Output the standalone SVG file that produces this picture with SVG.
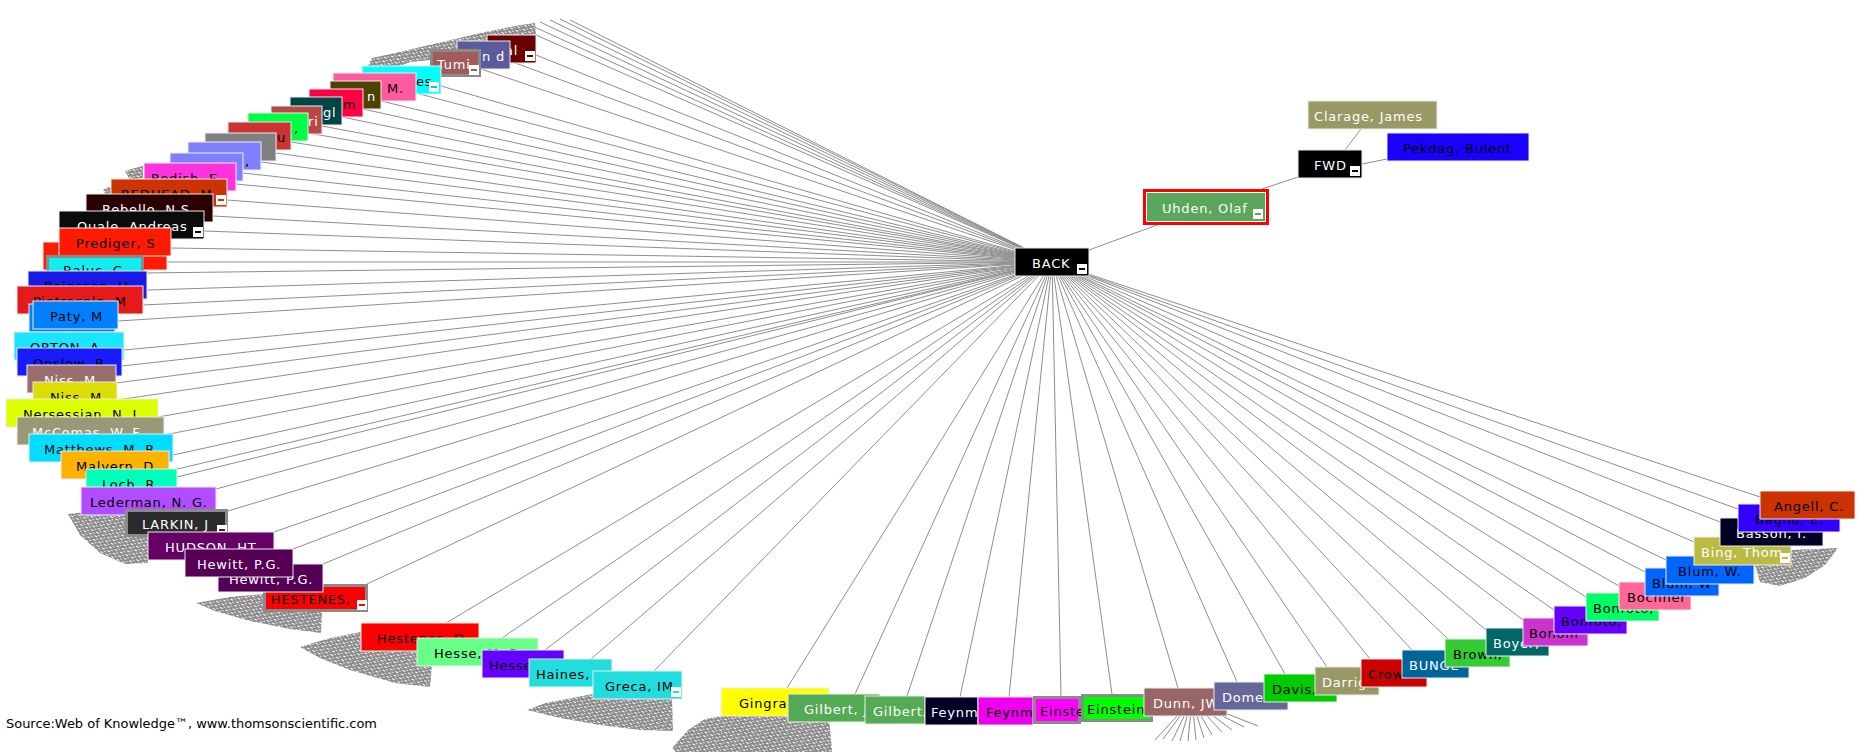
<svg xmlns="http://www.w3.org/2000/svg" width="1864" height="752" viewBox="0 0 1864 752">
<defs>
<style>
.b{stroke:#ececec;stroke-width:1}
.t{font-family:"DejaVu Sans",Verdana,sans-serif;font-size:13px;letter-spacing:0.8px}
.w{fill:#ffffff}
.k{fill:#000000}
.gb{fill:#8a8a8a}
.mi{fill:#ffffff}
.c line{stroke:#8e8e8e;stroke-width:1}
.fan{fill:url(#fanp)}
.fl line{stroke:#8a8a8a;stroke-width:1}
</style>
<pattern id="fanp" width="6" height="4" patternUnits="userSpaceOnUse" patternTransform="rotate(25)">
<rect width="6" height="4" fill="#8c8c8c"/>
<rect x="0" y="1" width="3" height="1" fill="#ffffff"/>
<rect x="3" y="3" width="2" height="1" fill="#e0e0e0"/>
</pattern>
</defs>
<rect width="1864" height="752" fill="#ffffff"/>

<g id="connectors" class="c">
<line x1="1052" y1="262" x2="536" y2="55"/>
<line x1="1052" y1="262" x2="510" y2="61"/>
<line x1="1052" y1="262" x2="481" y2="69"/>
<line x1="1052" y1="262" x2="441" y2="86"/>
<line x1="1052" y1="262" x2="416" y2="93"/>
<line x1="1052" y1="262" x2="381" y2="101"/>
<line x1="1052" y1="262" x2="363" y2="109"/>
<line x1="1052" y1="262" x2="342" y2="117"/>
<line x1="1052" y1="262" x2="322" y2="126"/>
<line x1="1052" y1="262" x2="308" y2="133"/>
<line x1="1052" y1="262" x2="291" y2="142"/>
<line x1="1052" y1="262" x2="276" y2="153"/>
<line x1="1052" y1="262" x2="261" y2="162"/>
<line x1="1052" y1="262" x2="243" y2="173"/>
<line x1="1052" y1="262" x2="236" y2="184"/>
<line x1="1052" y1="262" x2="227" y2="200"/>
<line x1="1052" y1="262" x2="213" y2="216"/>
<line x1="1052" y1="262" x2="204" y2="231"/>
<line x1="1052" y1="262" x2="171" y2="248"/>
<line x1="1052" y1="262" x2="167" y2="262"/>
<line x1="1052" y1="262" x2="144" y2="273"/>
<line x1="1052" y1="262" x2="147" y2="290"/>
<line x1="1052" y1="262" x2="143" y2="305"/>
<line x1="1052" y1="262" x2="118" y2="321"/>
<line x1="1052" y1="262" x2="124" y2="350"/>
<line x1="1052" y1="262" x2="122" y2="366"/>
<line x1="1052" y1="262" x2="116" y2="383"/>
<line x1="1052" y1="262" x2="117" y2="400"/>
<line x1="1052" y1="262" x2="158" y2="417"/>
<line x1="1052" y1="262" x2="164" y2="435"/>
<line x1="1052" y1="262" x2="173" y2="455"/>
<line x1="1052" y1="262" x2="169" y2="471"/>
<line x1="1052" y1="262" x2="177" y2="477"/>
<line x1="1052" y1="262" x2="216" y2="489"/>
<line x1="1052" y1="262" x2="228" y2="511"/>
<line x1="1052" y1="262" x2="274" y2="532"/>
<line x1="1052" y1="262" x2="293" y2="549"/>
<line x1="1052" y1="262" x2="323" y2="564"/>
<line x1="1052" y1="262" x2="367" y2="584"/>
<line x1="1052" y1="262" x2="446" y2="623"/>
<line x1="1052" y1="262" x2="502" y2="638"/>
<line x1="1052" y1="262" x2="545" y2="650"/>
<line x1="1052" y1="262" x2="591" y2="659"/>
<line x1="1052" y1="262" x2="654" y2="671"/>
<line x1="1052" y1="262" x2="787" y2="688"/>
<line x1="1052" y1="262" x2="855" y2="694"/>
<line x1="1052" y1="262" x2="907" y2="696"/>
<line x1="1052" y1="262" x2="960" y2="697"/>
<line x1="1052" y1="262" x2="1009" y2="697"/>
<line x1="1052" y1="262" x2="1061" y2="696"/>
<line x1="1052" y1="262" x2="1112" y2="694"/>
<line x1="1052" y1="262" x2="1178" y2="688"/>
<line x1="1052" y1="262" x2="1237" y2="682"/>
<line x1="1052" y1="262" x2="1285" y2="674"/>
<line x1="1052" y1="262" x2="1327" y2="667"/>
<line x1="1052" y1="262" x2="1370" y2="659"/>
<line x1="1052" y1="262" x2="1412" y2="650"/>
<line x1="1052" y1="262" x2="1448" y2="639"/>
<line x1="1052" y1="262" x2="1486" y2="630"/>
<line x1="1052" y1="262" x2="1523" y2="620"/>
<line x1="1052" y1="262" x2="1554" y2="610"/>
<line x1="1052" y1="262" x2="1586" y2="597"/>
<line x1="1052" y1="262" x2="1619" y2="586"/>
<line x1="1052" y1="262" x2="1645" y2="572"/>
<line x1="1052" y1="262" x2="1666" y2="560"/>
<line x1="1052" y1="262" x2="1694" y2="542"/>
<line x1="1052" y1="262" x2="1720" y2="522"/>
<line x1="1052" y1="262" x2="1738" y2="509"/>
<line x1="1052" y1="262" x2="1760" y2="497"/>
<line x1="1052" y1="262" x2="520" y2="28"/>
<line x1="1052" y1="262" x2="530" y2="25"/>
<line x1="1052" y1="262" x2="540" y2="22"/>
<line x1="1052" y1="262" x2="550" y2="20"/>
<line x1="1052" y1="262" x2="560" y2="19"/>
<line x1="1052" y1="262" x2="570" y2="20"/>
<line x1="1089" y1="250" x2="1157" y2="225"/>
<line x1="1262" y1="189" x2="1298" y2="177"/>
<line x1="1345" y1="150" x2="1361" y2="129"/>
<line x1="1362" y1="164" x2="1387" y2="159"/>
</g>

<g id="fans">
<polygon class="fan" points="368,66 372,58 395,53 425,46 455,39 485,32 515,26 535,23 536,35 487,35 487,41 457,41 457,49 430,49 430,60 410,62 400,66"/>
<polygon class="fan" points="125,171 135,168 143,166 143,178 130,180"/>
<polygon class="fan" points="103,190 108,187 111,187 111,194 105,194"/>
<polygon class="fan" points="68,514 95,511 125,511 125,537 148,537 148,563 125,564 100,553 80,535"/>
<polygon class="fan" points="196,603 230,597 263,594 263,612 322,612 321,633 290,629 250,621 215,611"/>
<polygon class="fan" points="300,647 330,638 361,632 361,651 420,651 432,665 430,687 395,683 350,670 320,658"/>
<polygon class="fan" points="527,710 545,703 593,694 672,699 673,731 640,730 600,725 560,718"/>
<polygon class="fan" points="672,748 688,730 705,719 721,716 829,716 832,752 676,752"/>
<polygon class="fan" points="1755,565 1791,565 1791,550 1838,548 1825,565 1805,578 1780,586 1760,582"/>
<g class="fl">
<line x1="1192" y1="700" x2="1155" y2="740"/>
<line x1="1192" y1="700" x2="1163" y2="739"/>
<line x1="1192" y1="700" x2="1172" y2="741"/>
<line x1="1192" y1="700" x2="1180" y2="741"/>
<line x1="1192" y1="700" x2="1188" y2="741"/>
<line x1="1192" y1="700" x2="1196" y2="740"/>
<line x1="1192" y1="700" x2="1204" y2="738"/>
<line x1="1192" y1="700" x2="1212" y2="735"/>
<line x1="1192" y1="700" x2="1222" y2="732"/>
<line x1="1192" y1="700" x2="1232" y2="730"/>
<line x1="1192" y1="700" x2="1244" y2="727"/>
<line x1="1192" y1="700" x2="1258" y2="726"/>
</g>
</g>

<g id="nodes">
<g id="n-al"><rect class="b" x="487" y="35" width="49" height="28" fill="#6b0000"/><text class="t w" x="505" y="55">al</text><rect class="mi" x="525" y="51" width="10" height="10"/><rect x="527" y="55" width="6" height="2" fill="#6b0000"/></g>
<g id="n-nd"><rect class="b" x="457" y="41" width="53" height="28" fill="#5a5a9c"/><text class="t w" x="482" y="61">n d</text></g>
<g id="n-tumi"><rect class="gb" x="430" y="49" width="51" height="28"/><rect x="433" y="52" width="45" height="22" fill="#a35a5a"/><text class="t w" x="437" y="69">Tumi</text><rect class="mi" x="469" y="65" width="10" height="10"/><rect x="471" y="69" width="6" height="2" fill="#a35a5a"/></g>
<g id="n-es"><rect class="b" x="362" y="66" width="79" height="28" fill="#00ffff"/><text class="t k" x="416" y="86">es</text><rect class="mi" x="429" y="82" width="10" height="10"/><rect x="431" y="86" width="6" height="2" fill="#00cccc"/></g>
<g id="n-m-dot"><rect class="b" x="333" y="73" width="83" height="28" fill="#ff5aa0"/><text class="t k" x="387" y="93">M.</text></g>
<g id="n-n"><rect class="b" x="330" y="81" width="51" height="28" fill="#4a4400"/><text class="t w" x="367" y="101">n</text></g>
<g id="n-m"><rect class="b" x="309" y="89" width="54" height="28" fill="#ff0044"/><text class="t k" x="343" y="109">m</text></g>
<g id="n-gl"><rect class="b" x="290" y="97" width="52" height="28" fill="#004646"/><text class="t w" x="323" y="117">gl</text></g>
<g id="n-ri"><rect class="b" x="271" y="106" width="51" height="28" fill="#b84848"/><text class="t w" x="308" y="126">ri</text></g>
<g id="n-green"><rect class="b" x="248" y="113" width="60" height="28" fill="#00ff44"/><text class="t k" x="294" y="133">,</text></g>
<g id="n-u"><rect class="b" x="228" y="122" width="63" height="28" fill="#cc3333"/><text class="t k" x="277" y="142">u</text></g>
<g id="n-gray"><rect class="b" x="205" y="133" width="71" height="28" fill="#808080"/></g>
<g id="n-lp1"><rect class="b" x="188" y="142" width="73" height="28" fill="#8080ff"/><text class="t k" x="245" y="166">,</text></g>
<g id="n-lp2"><rect class="b" x="170" y="153" width="73" height="28" fill="#8080ff"/></g>
<g id="n-redish"><rect class="b" x="144" y="163" width="92" height="28" fill="#ff33dd"/><text class="t k" x="151" y="183">Redish, E</text></g>
<g id="n-redhead"><rect class="b" x="111" y="179" width="116" height="28" fill="#cc3300"/><text class="t k" x="121" y="199">REDHEAD, M</text><rect class="mi" x="216" y="195" width="10" height="10"/><rect x="218" y="199" width="6" height="2" fill="#cc3300"/></g>
<g id="n-rebello"><rect class="b" x="86" y="194" width="127" height="28" fill="#2b0000"/><text class="t w" x="102" y="214">Rebello, N.S.</text></g>
<g id="n-quale"><rect class="b" x="59" y="211" width="145" height="28" fill="#0b0b0b"/><text class="t w" x="77" y="231">Quale, Andreas</text><rect class="mi" x="193" y="227" width="10" height="10"/><rect x="195" y="231" width="6" height="2" fill="#0b0b0b"/></g>
<g id="n-red"><rect class="b" x="43" y="242" width="124" height="28" fill="#ff1a00"/></g>
<g id="n-prediger"><rect class="b" x="59" y="228" width="112" height="28" fill="#ff1a00"/><text class="t k" x="76" y="248">Prediger, S</text></g>
<g id="n-baluc"><rect class="gb" x="46" y="255" width="98" height="28"/><rect x="49" y="258" width="92" height="22" fill="#11eeee"/><text class="t k" x="63" y="275">Baluc, C</text></g>
<g id="n-reinsson"><rect class="b" x="28" y="271" width="119" height="28" fill="#1a1ae6"/><text class="t k" x="44" y="291">Reinsson, U</text></g>
<g id="n-pietrocola"><rect class="b" x="17" y="286" width="126" height="28" fill="#e61a1a"/><text class="t k" x="33" y="306">Pietrocola, M</text></g>
<g id="n-blue"><rect class="b" x="29" y="304" width="86" height="28" fill="#0080ff"/></g>
<g id="n-paty"><rect class="b" x="33" y="301" width="85" height="28" fill="#0080ff"/><text class="t k" x="50" y="321">Paty, M</text></g>
<g id="n-orton"><rect class="b" x="14" y="332" width="110" height="28" fill="#1ae6ff"/><text class="t k" x="30" y="352">ORTON, A</text></g>
<g id="n-onslow"><rect class="b" x="17" y="348" width="105" height="28" fill="#1a1aff"/><text class="t k" x="33" y="368">Onslow, B</text></g>
<g id="n-niss1"><rect class="b" x="27" y="365" width="89" height="28" fill="#9a6e6e"/><text class="t w" x="44" y="385">Niss, M</text></g>
<g id="n-niss2"><rect class="b" x="33" y="382" width="84" height="28" fill="#dddd00"/><text class="t k" x="50" y="402">Niss, M</text></g>
<g id="n-nersessian"><rect class="b" x="6" y="399" width="152" height="28" fill="#ddff00"/><text class="t k" x="23" y="419">Nersessian, N. J.</text></g>
<g id="n-mccomas"><rect class="b" x="17" y="417" width="147" height="28" fill="#999977"/><text class="t w" x="32" y="437">McComas, W. F.</text></g>
<g id="n-matthews"><rect class="b" x="29" y="434" width="144" height="28" fill="#00ddff"/><text class="t k" x="44" y="454">Matthews, M. R.</text></g>
<g id="n-malvern"><rect class="b" x="61" y="451" width="108" height="28" fill="#ffb300"/><text class="t k" x="76" y="471">Malvern, D.</text></g>
<g id="n-loch"><rect class="b" x="86" y="469" width="91" height="28" fill="#00ffbb"/><text class="t k" x="102" y="489">Loch, R</text></g>
<g id="n-lederman"><rect class="b" x="81" y="487" width="135" height="28" fill="#b24cff"/><text class="t k" x="90" y="507">Lederman, N. G.</text></g>
<g id="n-larkin"><rect class="gb" x="125" y="509" width="103" height="28"/><rect x="128" y="512" width="97" height="22" fill="#2b2b2b"/><text class="t w" x="142" y="529">LARKIN, J</text><rect class="mi" x="217" y="525" width="10" height="10"/><rect x="219" y="529" width="6" height="2" fill="#2b2b2b"/></g>
<g id="n-hudson"><rect class="b" x="148" y="532" width="126" height="28" fill="#660066"/><text class="t w" x="165" y="552">HUDSON, HT</text></g>
<g id="n-hestenes-caps"><rect class="gb" x="263" y="584" width="105" height="28"/><rect x="266" y="587" width="99" height="22" fill="#ff0000"/><text class="t k" x="271" y="604">HESTENES,</text><rect class="mi" x="357" y="600" width="10" height="10"/><rect x="359" y="604" width="6" height="2" fill="#ff0000"/></g>
<g id="n-hewitt2"><rect class="b" x="218" y="564" width="105" height="28" fill="#550055"/><text class="t w" x="229" y="584">Hewitt, P.G.</text></g>
<g id="n-hewitt1"><rect class="b" x="185" y="549" width="108" height="28" fill="#550055"/><text class="t w" x="197" y="569">Hewitt, P.G.</text></g>

<g id="n-hestenes-d"><rect class="b" x="361" y="623" width="118" height="28" fill="#ff0000"/><text class="t k" x="377" y="643">Hestenes, D.</text></g>
<g id="n-hesse-mb"><rect class="b" x="417" y="638" width="121" height="28" fill="#66ff88"/><text class="t k" x="434" y="658">Hesse, M. B.</text></g>
<g id="n-hesse"><rect class="b" x="482" y="650" width="82" height="28" fill="#6600ff"/><text class="t k" x="489" y="670">Hesse</text></g>
<g id="n-haines"><rect class="b" x="529" y="659" width="83" height="28" fill="#22dddd"/><text class="t k" x="536" y="679">Haines,</text></g>
<g id="n-greca"><rect class="b" x="593" y="671" width="89" height="28" fill="#22dddd"/><text class="t k" x="605" y="691">Greca, IM</text><rect class="mi" x="671" y="687" width="10" height="10"/><rect x="673" y="691" width="6" height="2" fill="#22dddd"/></g>
<g id="n-gingras"><rect class="b" x="721" y="688" width="108" height="28" fill="#ffff00"/><text class="t k" x="739" y="708">Gingra</text></g>
<g id="n-gilbert1"><rect class="b" x="788" y="694" width="92" height="28" fill="#55aa55"/><text class="t w" x="804" y="714">Gilbert, J</text></g>
<g id="n-gilbert2"><rect class="b" x="865" y="696" width="60" height="28" fill="#55aa55"/><text class="t w" x="873" y="716">Gilbert,</text></g>
<g id="n-feynman1"><rect class="b" x="925" y="697" width="53" height="28" fill="#000022"/><text class="t w" x="931" y="717">Feynm</text></g>
<g id="n-feynman2"><rect class="b" x="978" y="697" width="55" height="28" fill="#ee00ee"/><text class="t k" x="986" y="717">Feynm</text></g>
<g id="n-einstein1"><rect class="gb" x="1033" y="696" width="48" height="28"/><rect x="1036" y="699" width="42" height="22" fill="#ff00ff"/><text class="t k" x="1040" y="716">Einste</text></g>
<g id="n-einstein2"><rect class="gb" x="1081" y="694" width="72" height="28"/><rect x="1084" y="697" width="66" height="22" fill="#00ff00"/><text class="t k" x="1087" y="714">Einstein</text></g>
<g id="n-dunn"><rect class="b" x="1144" y="688" width="83" height="28" fill="#996666"/><text class="t w" x="1153" y="708">Dunn, JW</text></g>
<g id="n-domen"><rect class="b" x="1214" y="682" width="74" height="28" fill="#666699"/><text class="t w" x="1222" y="702">Dome</text></g>
<g id="n-davis"><rect class="b" x="1264" y="674" width="73" height="28" fill="#00cc00"/><text class="t k" x="1272" y="694">Davis,</text></g>
<g id="n-darrig"><rect class="b" x="1315" y="667" width="64" height="28" fill="#999966"/><text class="t w" x="1322" y="687">Darrig</text></g>
<g id="n-crow"><rect class="b" x="1361" y="659" width="66" height="28" fill="#cc0000"/><text class="t k" x="1368" y="679">Crow</text></g>
<g id="n-bunge"><rect class="b" x="1402" y="650" width="67" height="28" fill="#006699"/><text class="t w" x="1409" y="670">BUNGE</text></g>
<g id="n-brown"><rect class="b" x="1445" y="639" width="65" height="28" fill="#33cc33"/><text class="t k" x="1453" y="659">Brown,</text></g>
<g id="n-boyer"><rect class="b" x="1486" y="628" width="63" height="28" fill="#006666"/><text class="t w" x="1493" y="648">Boyer,</text></g>
<g id="n-bonom"><rect class="b" x="1523" y="618" width="65" height="28" fill="#cc33cc"/><text class="t k" x="1529" y="638">Bonom</text></g>
<g id="n-bonfoto1"><rect class="b" x="1554" y="606" width="73" height="28" fill="#6600ff"/><text class="t k" x="1561" y="626">Bonfoto,</text></g>
<g id="n-bonfoto2"><rect class="b" x="1586" y="593" width="73" height="28" fill="#00ff66"/><text class="t k" x="1593" y="613">Bonfoto,</text></g>
<g id="n-bochner"><rect class="b" x="1619" y="582" width="72" height="28" fill="#ff6699"/><text class="t k" x="1627" y="602">Bochner</text></g>
<g id="n-blum1"><rect class="b" x="1645" y="568" width="74" height="28" fill="#0066ff"/><text class="t k" x="1652" y="588">Blum, W</text></g>
<g id="n-blum2"><rect class="b" x="1666" y="556" width="88" height="28" fill="#0066ff"/><text class="t k" x="1678" y="576">Blum, W.</text></g>
<g id="n-bing"><rect class="b" x="1694" y="537" width="97" height="28" fill="#bbbb44"/><text class="t w" x="1701" y="557">Bing, Thom</text><rect class="mi" x="1780" y="553" width="10" height="10"/><rect x="1782" y="557" width="6" height="2" fill="#bbbb44"/></g>
<g id="n-basson"><rect class="b" x="1720" y="518" width="103" height="28" fill="#000022"/><text class="t w" x="1736" y="538">Basson, I.</text></g>
<g id="n-bagno"><rect class="b" x="1738" y="504" width="102" height="28" fill="#3300ff"/><text class="t k" x="1755" y="524">Bagno, E.</text></g>
<g id="n-angell"><rect class="b" x="1760" y="491" width="95" height="28" fill="#cc3300"/><text class="t k" x="1774" y="511">Angell, C.</text></g>

<g id="n-clarage"><rect class="b" x="1308" y="101" width="129" height="28" fill="#999966"/><text class="t w" x="1314" y="121">Clarage, James</text></g>
<g id="n-pekdag"><rect class="b" x="1387" y="133" width="142" height="28" fill="#1a00ff"/><text class="t k" x="1403" y="153">Pekdag, Bulent</text></g>
<g id="n-fwd"><rect class="b" x="1298" y="150" width="64" height="28" fill="#000000"/><text class="t w" x="1314" y="170">FWD</text><rect class="mi" x="1350" y="166" width="10" height="10"/><rect x="1352" y="170" width="6" height="2" fill="#000"/></g>
<g id="n-uhden"><rect x="1143" y="189" width="126" height="36" fill="#ff0000"/><rect x="1146" y="192" width="120" height="30" fill="#ffffff"/><rect x="1147" y="193" width="118" height="28" fill="#5aa65a"/><text class="t w" x="1162" y="213">Uhden, Olaf</text><rect class="mi" x="1253" y="209" width="10" height="10"/><rect x="1255" y="213" width="6" height="2" fill="#5aa65a"/></g>
<g id="n-back"><rect class="b" x="1015" y="248" width="74" height="28" fill="#000000"/><text class="t w" x="1032" y="268">BACK</text><rect class="mi" x="1077" y="264" width="10" height="10"/><rect x="1079" y="268" width="6" height="2" fill="#000"/></g>
</g>

<g id="source"><text x="6" y="728" font-family="DejaVu Sans, Verdana, sans-serif" font-size="13" textLength="371" lengthAdjust="spacingAndGlyphs" fill="#000">Source:Web of Knowledge™, www.thomsonscientific.com</text></g>
</svg>
